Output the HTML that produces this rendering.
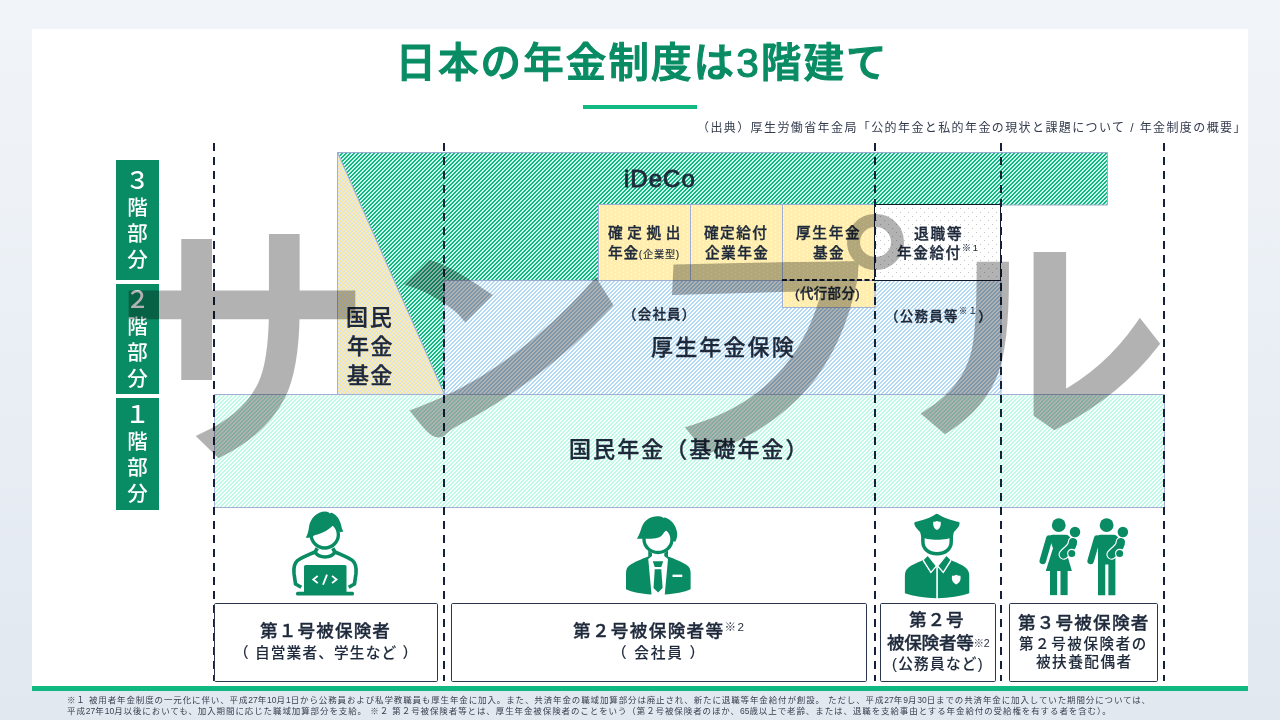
<!DOCTYPE html>
<html lang="ja">
<head>
<meta charset="utf-8">
<title>日本の年金制度は3階建て</title>
<style>
*{margin:0;padding:0;box-sizing:border-box;}
html,body{width:1280px;height:720px;overflow:hidden;}
body{position:relative;font-family:"Liberation Sans","Noto Sans CJK JP",sans-serif;color:#1e293b;
  background:linear-gradient(180deg,#f1f5f9 0%,#e2e8f0 100%);}
.abs{position:absolute;}
#card{left:32px;top:29px;width:1216px;height:657px;background:#fff;}
#bar{left:32px;top:686px;width:1216px;height:5px;background:#10b981;}
#title{left:1.2px;top:34.9px;width:1280px;text-align:center;font-size:40.5px;line-height:56px;font-weight:500;color:#098c63;-webkit-text-stroke:1.15px #098c63;white-space:nowrap;letter-spacing:2.1px;text-indent:2.1px;}
#uline{left:583px;top:105px;width:114px;height:4px;background:#10b981;}
#src{right:33px;top:118.8px;font-size:12px;line-height:18px;color:#333b4d;white-space:nowrap;letter-spacing:1.4px;}
#art{left:0;top:0;width:1280px;height:720px;}
.lab{left:116px;width:43px;background:#098c63;color:#fff;font-weight:500;font-size:20.5px;line-height:26px;text-align:center;display:flex;flex-direction:column;justify-content:center;}
.lab span{display:block;}
.lab span:first-child{font-size:24px;line-height:28.3px;}
.t,.lab span,#title,#src,#fn{will-change:transform;}
.t{white-space:nowrap;font-weight:500;line-height:1;-webkit-text-stroke:0.35px #1e293b;}
.sp{font-size:0.64em;position:relative;top:-0.78em;font-weight:400;-webkit-text-stroke:0.1px #1e293b;}
.sm{font-size:0.6em;position:relative;top:-0.2em;font-weight:400;-webkit-text-stroke:0;}
.ks{font-size:0.7em;font-weight:400;-webkit-text-stroke:0.15px #1e293b;}
#wm{left:0;top:0;width:1280px;height:720px;opacity:0.30;color:#000;font-family:"IPAGothic","Noto Sans CJK JP",sans-serif;font-weight:700;font-size:260px;line-height:260px;white-space:nowrap;-webkit-text-stroke:2px #000;}
#wm span{position:absolute;display:block;width:260px;height:260px;transform-origin:0 0;}
#wm i{position:absolute;display:block;left:847.3px;top:213.5px;width:56.6px;height:56.6px;border:13px solid #000;border-radius:50%;}
#fn b{font-weight:inherit;letter-spacing:0;}
#fn{left:66.6px;top:694.6px;font-size:8.5px;line-height:10.9px;color:#3a4150;white-space:nowrap;letter-spacing:0.87px;}
</style>
</head>
<body>
<div id="card" class="abs"></div>
<div id="bar" class="abs"></div>
<div id="title" class="abs">日本の年金制度は3階建て</div>
<div id="uline" class="abs"></div>
<div id="src" class="abs">（出典）厚生労働省年金局「公的年金と私的年金の現状と課題について / 年金制度の概要」</div>

<svg id="art" class="abs" width="1280" height="720" viewBox="0 0 1280 720">
<defs>
  <pattern id="hG" width="4" height="4" patternUnits="userSpaceOnUse"><rect x="0" y="0" width="1" height="1" fill="#cdfaeb"/><rect x="1" y="0" width="1" height="1" fill="#cdfaeb"/><rect x="2" y="0" width="1" height="1" fill="#11b782"/><rect x="3" y="0" width="1" height="1" fill="#11b782"/><rect x="0" y="1" width="1" height="1" fill="#cdfaeb"/><rect x="1" y="1" width="1" height="1" fill="#11b782"/><rect x="2" y="1" width="1" height="1" fill="#11b782"/><rect x="3" y="1" width="1" height="1" fill="#cdfaeb"/><rect x="0" y="2" width="1" height="1" fill="#11b782"/><rect x="1" y="2" width="1" height="1" fill="#11b782"/><rect x="2" y="2" width="1" height="1" fill="#cdfaeb"/><rect x="3" y="2" width="1" height="1" fill="#cdfaeb"/><rect x="0" y="3" width="1" height="1" fill="#11b782"/><rect x="1" y="3" width="1" height="1" fill="#cdfaeb"/><rect x="2" y="3" width="1" height="1" fill="#cdfaeb"/><rect x="3" y="3" width="1" height="1" fill="#11b782"/></pattern>
  <pattern id="hB" width="4" height="4" patternUnits="userSpaceOnUse"><rect x="0" y="0" width="1" height="1" fill="#fdfeff"/><rect x="1" y="0" width="1" height="1" fill="#fdfeff"/><rect x="2" y="0" width="1" height="1" fill="#b2d9f4"/><rect x="3" y="0" width="1" height="1" fill="#b2d9f4"/><rect x="0" y="1" width="1" height="1" fill="#fdfeff"/><rect x="1" y="1" width="1" height="1" fill="#b2d9f4"/><rect x="2" y="1" width="1" height="1" fill="#b2d9f4"/><rect x="3" y="1" width="1" height="1" fill="#fdfeff"/><rect x="0" y="2" width="1" height="1" fill="#b2d9f4"/><rect x="1" y="2" width="1" height="1" fill="#b2d9f4"/><rect x="2" y="2" width="1" height="1" fill="#fdfeff"/><rect x="3" y="2" width="1" height="1" fill="#fdfeff"/><rect x="0" y="3" width="1" height="1" fill="#b2d9f4"/><rect x="1" y="3" width="1" height="1" fill="#fdfeff"/><rect x="2" y="3" width="1" height="1" fill="#fdfeff"/><rect x="3" y="3" width="1" height="1" fill="#b2d9f4"/></pattern>
  <pattern id="hM" width="4" height="4" patternUnits="userSpaceOnUse"><rect x="0" y="0" width="1" height="1" fill="#fdfffe"/><rect x="1" y="0" width="1" height="1" fill="#fdfffe"/><rect x="2" y="0" width="1" height="1" fill="#bbfae5"/><rect x="3" y="0" width="1" height="1" fill="#bbfae5"/><rect x="0" y="1" width="1" height="1" fill="#fdfffe"/><rect x="1" y="1" width="1" height="1" fill="#bbfae5"/><rect x="2" y="1" width="1" height="1" fill="#bbfae5"/><rect x="3" y="1" width="1" height="1" fill="#fdfffe"/><rect x="0" y="2" width="1" height="1" fill="#bbfae5"/><rect x="1" y="2" width="1" height="1" fill="#bbfae5"/><rect x="2" y="2" width="1" height="1" fill="#fdfffe"/><rect x="3" y="2" width="1" height="1" fill="#fdfffe"/><rect x="0" y="3" width="1" height="1" fill="#bbfae5"/><rect x="1" y="3" width="1" height="1" fill="#fdfffe"/><rect x="2" y="3" width="1" height="1" fill="#fdfffe"/><rect x="3" y="3" width="1" height="1" fill="#bbfae5"/></pattern>
  <pattern id="hY" width="4" height="4" patternUnits="userSpaceOnUse"><rect x="0" y="0" width="1" height="1" fill="#feec9d"/><rect x="1" y="0" width="1" height="1" fill="#feec9d"/><rect x="2" y="0" width="1" height="1" fill="#dbe3f2"/><rect x="3" y="0" width="1" height="1" fill="#dbe3f2"/><rect x="0" y="1" width="1" height="1" fill="#feec9d"/><rect x="1" y="1" width="1" height="1" fill="#dbe3f2"/><rect x="2" y="1" width="1" height="1" fill="#dbe3f2"/><rect x="3" y="1" width="1" height="1" fill="#feec9d"/><rect x="0" y="2" width="1" height="1" fill="#dbe3f2"/><rect x="1" y="2" width="1" height="1" fill="#dbe3f2"/><rect x="2" y="2" width="1" height="1" fill="#feec9d"/><rect x="3" y="2" width="1" height="1" fill="#feec9d"/><rect x="0" y="3" width="1" height="1" fill="#dbe3f2"/><rect x="1" y="3" width="1" height="1" fill="#feec9d"/><rect x="2" y="3" width="1" height="1" fill="#feec9d"/><rect x="3" y="3" width="1" height="1" fill="#dbe3f2"/></pattern>
  <pattern id="dY" width="8" height="4" patternUnits="userSpaceOnUse"><rect width="8" height="4" fill="#ffeeb0"/><rect x="3" y="0" width="1" height="1" fill="#ffffff"/><rect x="7" y="2" width="1" height="1" fill="#ffffff"/></pattern>
  <pattern id="dW" width="8" height="8" patternUnits="userSpaceOnUse"><rect width="8" height="8" fill="#ffffff"/><rect x="0" y="0" width="1" height="1" fill="#c4c4c4"/><rect x="4" y="4" width="1" height="1" fill="#c4c4c4"/></pattern>
</defs>
<!-- 1階 -->
<rect x="214.5" y="394.5" width="950" height="113" fill="url(#hM)" stroke="#a3b0d4" stroke-width="1"/>
<!-- 2階 厚生年金保険 -->
<rect x="444.5" y="280.5" width="556.5" height="114" fill="url(#hB)" stroke="#a3b0d4" stroke-width="1"/>
<!-- 3階 iDeCo -->
<path d="M337.5,152.5 H1107.4 V205 H598.5 V280.5 H444.5 V394.5 Z" fill="url(#hG)" stroke="#9cacd0" stroke-width="1"/>
<!-- 国民年金基金 -->
<path d="M337.5,152.5 L444.5,394.5 H337.5 Z" fill="url(#hY)" stroke="#a3b0d4" stroke-width="1"/>
<!-- yellow boxes -->
<rect x="598.5" y="204.5" width="92" height="76" fill="url(#dY)" stroke="#a3b0d4" stroke-width="1"/>
<rect x="690.5" y="204.5" width="92" height="76" fill="url(#dY)" stroke="#a3b0d4" stroke-width="1"/>
<rect x="782.5" y="204.5" width="92.5" height="76" fill="url(#dY)" stroke="#a3b0d4" stroke-width="1"/>
<rect x="782.5" y="280.5" width="92.5" height="27" fill="url(#dY)" stroke="#a3b0d4" stroke-width="1"/>
<line x1="782" y1="280" x2="875" y2="280" stroke="#111827" stroke-width="2" stroke-dasharray="5 2.5"/>
<!-- 退職等年金給付 -->
<rect x="874.5" y="204.5" width="126" height="76" fill="url(#dW)" stroke="#111827" stroke-width="1"/>
<!-- dashed verticals -->
<g stroke="#15213b" stroke-width="2" stroke-dasharray="8 6" fill="none">
  <line x1="214" y1="143" x2="214" y2="681"/>
  <line x1="444" y1="143" x2="444" y2="681"/>
  <line x1="875" y1="143" x2="875" y2="681"/>
  <line x1="1001" y1="143" x2="1001" y2="681"/>
  <line x1="1164" y1="143" x2="1164" y2="681"/>
</g>
<!-- bottom boxes -->
<g fill="#fff" stroke="#2a364d" stroke-width="1">
  <rect x="214.5" y="603.5" width="223" height="78" rx="1.2"/>
  <rect x="451.5" y="603.5" width="415" height="78" rx="1.2"/>
  <rect x="880.5" y="603.5" width="115" height="78" rx="1.2"/>
  <rect x="1009.5" y="603.5" width="148" height="78" rx="1.2"/>
</g>
<!--ICONS-->
<g id="ic1" transform="translate(285,508) scale(0.125)" fill="#098c63" stroke="none">
  <ellipse cx="318" cy="212" rx="109" ry="108" fill="#fff" stroke="#098c63" stroke-width="27"/>
  <path d="M166,238 C182,215 188,180 192,150 C202,85 255,28 322,28 C340,28 352,34 358,44 C366,36 372,36 378,40 C418,58 445,105 452,150 C455,168 460,178 468,188 L438,194 C432,170 420,145 398,122 C360,170 300,205 236,217 C215,232 190,240 166,238 Z"/>
  <path d="M258,322 L242,350 C190,374 120,402 98,422 C72,447 68,482 72,522 L84,608 L130,634" fill="none" stroke="#098c63" stroke-width="29" stroke-linecap="butt" stroke-linejoin="round"/>
  <path d="M382,322 L398,350 C450,374 520,402 542,422 C568,447 572,482 568,522 L556,608 L510,634" fill="none" stroke="#098c63" stroke-width="29" stroke-linecap="butt" stroke-linejoin="round"/>
  <path d="M244,358 C275,402 365,402 396,358" fill="none" stroke="#098c63" stroke-width="28"/>
  <path d="M152,672 V468 Q152,455 165,455 H479 Q492,455 492,468 V672 Z"/>
  <rect x="88" y="670" width="464" height="30" rx="12"/>
  <path d="M262,543 L226,572 L262,601 M336,533 L304,614 M376,543 L412,572 L376,601" fill="none" stroke="#fff" stroke-width="15" stroke-linejoin="miter"/>
</g>
<g id="ic2" transform="translate(620,508) scale(0.125)" fill="#098c63" stroke="none">
  <ellipse cx="304" cy="250" rx="112" ry="106" fill="#fff" stroke="#098c63" stroke-width="27"/>
  <path d="M135,246 C155,215 165,180 175,150 C195,95 245,65 300,65 C322,65 340,70 350,80 C358,74 366,76 374,82 C420,100 452,150 458,205 C459,230 452,250 442,270 L412,262 C414,232 410,198 400,176 C372,166 356,190 342,210 C322,240 282,248 207,246 Z"/>
  <path d="M226,340 L256,362 L256,384 L226,408 L252,692 C170,688 95,672 48,650 L48,520 C48,490 58,470 80,455 C110,435 170,410 226,388 Z"/>
  <path d="M384,340 L354,362 L354,384 L384,408 L358,692 C440,688 515,672 565,650 L565,520 C565,490 555,470 533,455 C503,435 443,410 384,388 Z"/>
  <path d="M262,425 H346 L330,472 H278 Z"/>
  <path d="M278,490 H330 L341,640 L305,676 L268,640 Z"/>
  <rect x="420" y="533" width="78" height="19" fill="#fff"/>
</g>
<g id="ic3" transform="translate(898,508) scale(0.125)" fill="#098c63" stroke="none">
  <path d="M199,215 V268 C199,328 245,366 312,366 C380,366 426,328 426,268 V215" fill="#fff" stroke="#098c63" stroke-width="28"/>
  <path d="M136,112 C180,104 265,78 300,50 Q311,42 322,50 C358,78 444,104 487,112 Q496,116 492,128 C486,160 458,176 446,196 L440,228 C400,262 225,262 185,228 L178,196 C166,176 138,160 131,128 Q128,116 136,112 Z"/>
  <path d="M284,108 C294,112 302,108 312,103 C322,108 330,112 340,108 C346,125 344,160 312,176 C280,160 278,125 284,108 Z" fill="#fff"/>
  <path d="M238,380 L190,422 C150,438 110,455 85,475 C62,492 55,515 55,545 L55,682 C120,706 220,720 306,722 V470 L262,520 L198,424 Z"/>
  <path d="M386,380 L434,422 C474,438 514,455 539,475 C562,492 570,515 570,545 L570,682 C505,706 405,720 319,722 V470 L363,520 L427,424 Z"/>
  <path d="M238,376 L200,414 L263,515 L308,464 Z" stroke="#fff" stroke-width="10" stroke-linejoin="miter"/>
  <path d="M387,376 L425,414 L362,515 L317,464 Z" stroke="#fff" stroke-width="10" stroke-linejoin="miter"/>
  <path d="M434,540 C446,545 454,540 466,534 C478,540 486,545 498,540 C505,560 502,595 466,612 C430,595 427,560 434,540 Z" fill="#fff"/>
</g>
<g id="ic4" transform="translate(1034,512) scale(0.125)" fill="#098c63" stroke="none">
  <g id="fem">
    <circle cx="198" cy="105" r="55"/>
    <path d="M122,212 L70,392" fill="none" stroke="#098c63" stroke-width="52" stroke-linecap="round"/>
    <path d="M150,182 H250 C275,182 290,195 292,215 L266,345 L303,472 H94 L152,290 L120,200 C125,190 135,182 150,182 Z"/>
    <rect x="128" y="465" width="57" height="200"/>
    <rect x="212" y="465" width="57" height="200"/>
  </g>
  <g id="baby1">
    <path d="M312,240 C312,292 268,302 238,340" fill="none" stroke="#fff" stroke-width="84" stroke-linecap="round"/>
    <path d="M312,240 C312,292 268,302 238,340" fill="none" stroke="#098c63" stroke-width="66" stroke-linecap="round"/>
    <circle cx="302" cy="331" r="37" fill="#fff"/>
    <circle cx="302" cy="331" r="28"/>
    <circle cx="328" cy="160" r="50" fill="#fff"/>
    <circle cx="328" cy="160" r="42"/>
  </g>
  <g id="male" transform="translate(383,0)">
    <circle cx="198" cy="105" r="55"/>
    <path d="M122,212 L70,392" fill="none" stroke="#098c63" stroke-width="52" stroke-linecap="round"/>
    <path d="M150,182 H250 C275,182 290,195 292,215 L268,345 V665 H212 V420 H187 V665 H129 V290 L120,200 C125,190 135,182 150,182 Z"/>
  </g>
  <g id="baby2" transform="translate(383,0)">
    <path d="M312,240 C312,292 268,302 238,340" fill="none" stroke="#fff" stroke-width="84" stroke-linecap="round"/>
    <path d="M312,240 C312,292 268,302 238,340" fill="none" stroke="#098c63" stroke-width="66" stroke-linecap="round"/>
    <circle cx="302" cy="331" r="37" fill="#fff"/>
    <circle cx="302" cy="331" r="28"/>
    <circle cx="328" cy="160" r="50" fill="#fff"/>
    <circle cx="328" cy="160" r="42"/>
  </g>
</g>
<!--/ICONS-->
</svg>

<div class="abs lab" style="top:160px;height:120px;"><span>３</span><span>階</span><span>部</span><span>分</span></div>
<div class="abs lab" style="top:284px;height:110px;"><span>２</span><span>階</span><span>部</span><span>分</span></div>
<div class="abs lab" style="top:398px;height:112px;"><span>１</span><span>階</span><span>部</span><span>分</span></div>

<!--TEXT-->
<div class="abs t" style="left:624.4px;top:166.6px;font-size:24px;letter-spacing:1.01px;font-weight:400;-webkit-text-stroke:0.85px #1e293b;">iDeCo</div>
<div class="abs t" style="left:346.4px;top:307.0px;font-size:22px;letter-spacing:1.713px;">国民</div>
<div class="abs t" style="left:347.4px;top:335.8px;font-size:22px;letter-spacing:1.547px;">年金</div>
<div class="abs t" style="left:347.2px;top:364.5px;font-size:22px;letter-spacing:1.28px;">基金</div>
<div class="abs t" style="left:607.6px;top:226.15px;font-size:14.67px;letter-spacing:4.554px;">確定拠出</div>
<div class="abs t" style="left:607.6px;top:245.9px;font-size:14.67px;letter-spacing:0.731px;">年金<span class="ks">(企業型)</span></div>
<div class="abs t" style="left:704.0px;top:226.15px;font-size:14.67px;letter-spacing:1.448px;">確定給付</div>
<div class="abs t" style="left:704.9px;top:245.9px;font-size:14.67px;letter-spacing:1.448px;">企業年金</div>
<div class="abs t" style="left:796.4px;top:226.15px;font-size:14.67px;letter-spacing:1.676px;">厚生年金</div>
<div class="abs t" style="left:813.4px;top:245.9px;font-size:14.67px;letter-spacing:1.354px;">基金</div>
<div class="abs t" style="left:914.0px;top:226.95px;font-size:14.67px;letter-spacing:1.837px;">退職等</div>
<div class="abs t" style="left:896.8px;top:245.9px;font-size:14.67px;letter-spacing:1.54px;">年金給付<span class="sp">※1</span></div>
<div class="abs t" style="left:795.0px;top:286.8px;font-size:13.4px;letter-spacing:0.446px;">(代行部分)</div>
<div class="abs t" style="left:622.6px;top:308.2px;font-size:13.5px;letter-spacing:1.19px;">（会社員）</div>
<div class="abs t" style="left:885.0px;top:310.0px;font-size:13.5px;letter-spacing:1.227px;">（公務員等<span class="sp">※１</span>）</div>
<div class="abs t" style="left:651.0px;top:337.25px;font-size:22px;letter-spacing:2.15px;">厚生年金保険</div>
<div class="abs t" style="left:569.0px;top:438.5px;font-size:22px;letter-spacing:2.069px;">国民年金（基礎年金）</div>
<div class="abs t" style="left:260.2px;top:622.6px;font-size:17.6px;letter-spacing:1.134px;">第１号被保険者</div>
<div class="abs t" style="left:234.0px;top:646.25px;font-size:14.67px;letter-spacing:1.145px;-webkit-text-stroke:0.1px #1e293b;">（ 自営業者、学生など ）</div>
<div class="abs t" style="left:573.2px;top:623.1px;font-size:17.6px;letter-spacing:1.343px;">第２号被保険者等<span class="sm" style="top:-0.56em;font-size:0.66em;">※2</span></div>
<div class="abs t" style="left:612.0px;top:646.25px;font-size:14.67px;letter-spacing:1.798px;-webkit-text-stroke:0.1px #1e293b;">（ 会社員 ）</div>
<div class="abs t" style="left:909.4px;top:612.05px;font-size:17.6px;letter-spacing:0.951px;">第２号</div>
<div class="abs t" style="left:886.6px;top:634.5px;font-size:17.6px;letter-spacing:-0.294px;">被保険者等<span class="sm">※2</span></div>
<div class="abs t" style="left:891.8px;top:656.75px;font-size:14.67px;letter-spacing:1.259px;-webkit-text-stroke:0.1px #1e293b;">(公務員など)</div>
<div class="abs t" style="left:1018.1px;top:615.03px;font-size:17.6px;letter-spacing:1.184px;">第３号被保険者</div>
<div class="abs t" style="left:1019.2px;top:636.88px;font-size:14.5px;letter-spacing:1.615px;-webkit-text-stroke:0.1px #1e293b;">第２号被保険者の</div>
<div class="abs t" style="left:1036.0px;top:655.38px;font-size:14.67px;letter-spacing:1.44px;-webkit-text-stroke:0.1px #1e293b;">被扶養配偶者</div>
<!--/TEXT-->

<div id="fn" class="abs">※１ 被用者年金制度の一元化に伴い、平成<b>27</b>年<b>10</b>月<b>1</b>日から公務員および私学教職員も厚生年金に加入。また、共済年金の職域加算部分は廃止され、新たに退職等年金給付が創設。 ただし、平成<b>27</b>年<b>9</b>月<b>30</b>日までの共済年金に加入していた期間分については、<br><span style="letter-spacing:0.9px;">平成<b>27</b>年<b>10</b>月以後においても、加入期間に応じた職域加算部分を支給。 ※２ 第２号被保険者等とは、厚生年金被保険者のことをいう（第２号被保険者のほか、<b>65</b>歳以上で老齢、または、退職を支給事由とする年金給付の受給権を有する者を含む）。</span></div>

<div id="wm" class="abs"><span style="left:112.9px;top:209.7px;transform:scale(0.9921,0.9996);">サ</span><span style="left:0;top:0;transform:matrix(0.8843,-0.1132,0.0243,0.8311,389.50,240.12);font-family:'WenQuanYi Zen Hei','IPAGothic',sans-serif;font-weight:400;-webkit-text-stroke:19px #000;">ン</span><span style="left:0;top:0;transform:matrix(1.0336,-0.0088,-0.0512,1.0153,638.90,212.43);clip-path:inset(50px 45px 0 0);">プ</span><i></i><span style="left:915.8px;top:222.3px;transform:scale(0.9728,0.8892);-webkit-text-stroke:4px #000;">ル</span></div>
</body>
</html>
